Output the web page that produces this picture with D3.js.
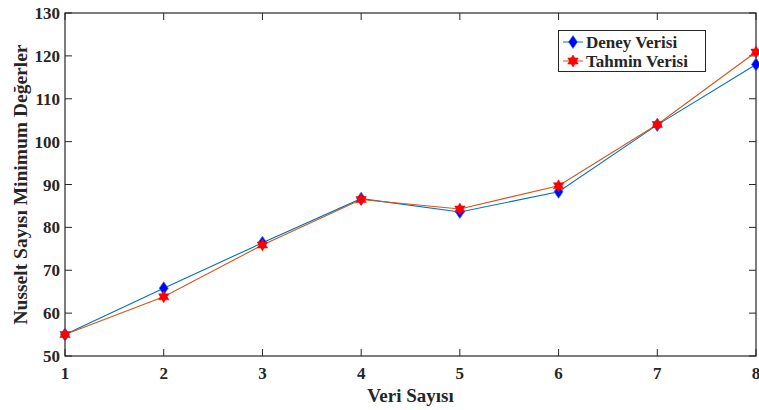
<!DOCTYPE html>
<html><head><meta charset="utf-8">
<script src="https://cdn.jsdelivr.net/npm/d3@7"></script>
<style>body{margin:0;background:#fff}svg{display:block}text{font-family:"Liberation Serif","Times New Roman",serif;font-weight:bold;fill:#262626}</style>
</head><body>
<svg id="c" width="759" height="410"></svg>
<script>
const categories = [1,2,3,4,5,6,7,8];
const deney = [55, 65.8, 76.4, 86.7, 83.6, 88.3, 103.9, 118];
const tahmin = [55, 63.8, 75.9, 86.5, 84.3, 89.7, 104, 120.9];
const yTicks = [50,60,70,80,90,100,110,120,130];
const seriesNames = ["Deney Verisi","Tahmin Verisi"];

const svg = d3.select("#c");
const L=65, R=756, T=13, B=356;
const x = d3.scaleLinear().domain([1,8]).range([L,R]);
const y = d3.scaleLinear().domain([50,130]).range([B,T]);
const axc = "#262626";

const g = svg.append("g");
categories.forEach(v=>{
  g.append("line").attr("x1",x(v)).attr("x2",x(v)).attr("y1",B).attr("y2",B-7).attr("stroke",axc);
  g.append("line").attr("x1",x(v)).attr("x2",x(v)).attr("y1",T).attr("y2",T+7).attr("stroke",axc);
  g.append("text").attr("x",x(v)).attr("y",B+23).attr("text-anchor","middle").attr("font-size",17).text(v);
});
yTicks.forEach(v=>{
  g.append("line").attr("x1",L).attr("x2",L+7).attr("y1",y(v)).attr("y2",y(v)).attr("stroke",axc);
  g.append("line").attr("x1",R).attr("x2",R-7).attr("y1",y(v)).attr("y2",y(v)).attr("stroke",axc);
  g.append("text").attr("x",L-5).attr("y",y(v)+6).attr("text-anchor","end").attr("font-size",17).text(v);
});
g.append("rect").attr("x",L).attr("y",T).attr("width",R-L).attr("height",B-T).attr("fill","none").attr("stroke",axc).attr("stroke-width",1.2);

svg.append("text").attr("x",(L+R)/2).attr("y",402).attr("text-anchor","middle").attr("font-size",19).text("Veri Sayısı");
svg.append("text").attr("transform",`translate(27,${(T+B)/2}) rotate(-90)`).attr("text-anchor","middle").attr("font-size",19.5).text("Nusselt Sayısı Minimum Değerler");

const line = d3.line().x((d,i)=>x(categories[i])).y(d=>y(d));
const blueLine="#0072BD", redLine="#D95319";
svg.append("path").attr("d",line(deney)).attr("fill","none").attr("stroke",blueLine).attr("stroke-width",1.1);
svg.append("path").attr("d",line(tahmin)).attr("fill","none").attr("stroke",redLine).attr("stroke-width",1.1);

const diamond = "M0,-6.5L4.5,0L0,6.5L-4.5,0Z";
function star6(r1,r2){let p=[];for(let i=0;i<12;i++){const a=-Math.PI/2+i*Math.PI/6;const r=i%2?r2:r1;p.push([r*Math.cos(a),r*Math.sin(a)]);}return "M"+p.map(q=>q.join(",")).join("L")+"Z";}
const starPath = star6(6,3.5);

svg.append("g").selectAll("path").data(deney).join("path")
  .attr("d",diamond).attr("transform",(d,i)=>`translate(${x(categories[i])},${y(d)})`)
  .attr("fill","#0000FF").attr("stroke","#2a7fd4").attr("stroke-width",0.8);
svg.append("g").selectAll("path").data(tahmin).join("path")
  .attr("d",starPath).attr("transform",(d,i)=>`translate(${x(categories[i])},${y(d)})`)
  .attr("fill","#FF0000").attr("stroke","#FF0000").attr("stroke-width",0.5);

const lg = svg.append("g");
lg.append("rect").attr("x",558.5).attr("y",30.5).attr("width",147).attr("height",41).attr("fill","#fff").attr("stroke",axc).attr("stroke-width",1);
const items=[{n:seriesNames[0],c:blueLine,m:diamond,f:"#0000FF",s:"#2a7fd4",yy:42},{n:seriesNames[1],c:redLine,m:starPath,f:"#FF0000",s:"#FF0000",yy:61}];
items.forEach(it=>{
  lg.append("line").attr("x1",563).attr("x2",583).attr("y1",it.yy).attr("y2",it.yy).attr("stroke",it.c);
  lg.append("path").attr("d",it.m).attr("transform",`translate(573,${it.yy})`).attr("fill",it.f).attr("stroke",it.s).attr("stroke-width",0.6);
  lg.append("text").attr("x",586).attr("y",it.yy+6).attr("font-size",17).attr("fill","#000").text(it.n);
});
</script>
</body></html>
